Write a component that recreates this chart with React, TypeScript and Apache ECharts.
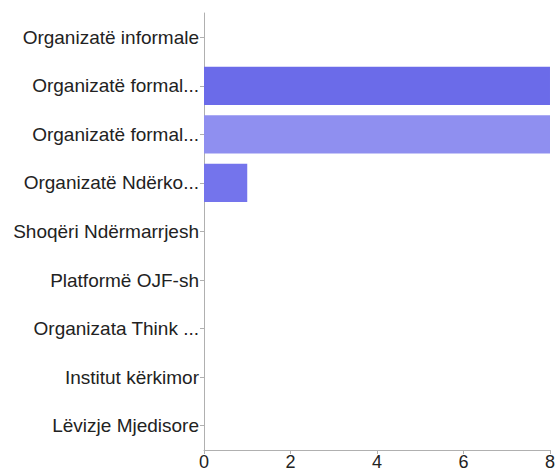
import React, { useEffect, useRef } from "react";
import * as echarts from "echarts";

const categories = [
  "Organizatë informale",
  "Organizatë formal...",
  "Organizatë formal...",
  "Organizatë Ndërko...",
  "Shoqëri Ndërmarrjesh",
  "Platformë OJF-sh",
  "Organizata Think ...",
  "Institut kërkimor",
  "Lëvizje Mjedisore",
];
const values = [0, 8, 8, 1, 0, 0, 0, 0, 0];
const barColors = ["#6b6be9", "#6b6be9", "#8f8ff0", "#7474ec", "#6b6be9", "#6b6be9", "#6b6be9", "#6b6be9", "#6b6be9"];
const xTicks = { min: 0, max: 8, interval: 2 };

export default function App() {
  const ref = useRef<HTMLDivElement>(null);
  useEffect(() => {
    const chart = echarts.init(ref.current!, null, { renderer: "svg" });
    chart.setOption({
      animation: false,
      textStyle: { fontFamily: "Liberation Sans, Arial, sans-serif" },
      grid: { left: 204, right: 6, top: 13, bottom: 24, containLabel: false },
      xAxis: {
        type: "value",
        min: xTicks.min,
        max: xTicks.max,
        interval: xTicks.interval,
        splitLine: { show: false },
        axisLine: { show: true, lineStyle: { color: "#b0b0b0", width: 1 } },
        axisTick: { show: true, length: 4, lineStyle: { color: "#b0b0b0" } },
        axisLabel: { color: "#222", fontSize: 18, margin: 3 },
      },
      yAxis: {
        type: "category",
        inverse: true,
        data: categories,
        axisLine: { show: true, lineStyle: { color: "#b0b0b0", width: 1 } },
        axisTick: { show: true, length: 4, alignWithLabel: true, lineStyle: { color: "#b0b0b0" } },
        axisLabel: { color: "#222", fontSize: 19, margin: 5 },
      },
      series: [
        {
          type: "bar",
          data: values.map((v, i) => ({ value: v, itemStyle: { color: barColors[i] } })),
          barCategoryGap: "21%",
        },
      ],
    });
    return () => chart.dispose();
  }, []);
  return <div ref={ref} style={{ width: 558, height: 474, position: "absolute", left: 0, top: 0 }} />;
}
